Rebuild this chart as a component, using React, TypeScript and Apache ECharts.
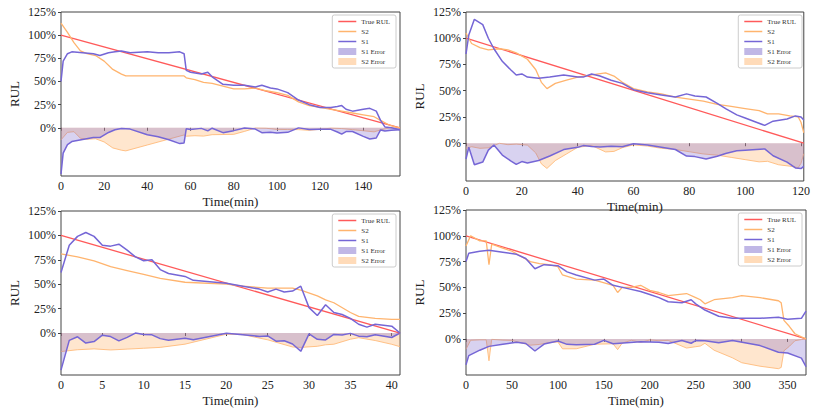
import * as echarts from "echarts";
import { useEffect, useRef } from "react";

// [time(min), predicted RUL %]
const endTimes = [157, 121, 41, 370];
const xIntervals = [20, 20, 5, 50];
const yMins = [-52, -36, -43, -35];
const yTicks = [0, 25, 50, 75, 100, 125];

const s2Runs: number[][][] = [
  [[0,113],[3,103],[6,92],[9,83],[12,80],[16,78],[20,72],[24,63],[28,58],[30,56],[40,56],[50,56],[57,56],[58,54],[62,52],[66,49],[70,48],[75,45],[80,42],[85,42],[90,43],[95,40],[100,38],[105,35],[110,28],[115,24],[120,22],[125,20],[130,18],[135,16],[140,14],[145,12],[148,8],[152,3],[155,1],[157,0]],
  [[0,105],[2,95],[5,91],[8,89],[12,90],[15,89],[18,86],[22,80],[25,70],[27,58],[29,52],[32,57],[36,60],[40,63],[45,65],[50,67],[53,64],[56,58],[60,52],[65,49],[70,47],[75,44],[80,42],[85,40],[90,37],[95,35],[100,33],[105,31],[108,28],[112,28],[116,26],[119,25],[120,20],[121,10]],
  [[0,81],[2,78],[4,74],[6,68],[8,64],[10,60],[12,56],[15,52],[20,50],[22,48],[25,46],[28,46],[29,44],[31,38],[32,34],[33,31],[35,21],[36,17],[38,15],[40,14],[41,14]],
  [[0,90],[5,100],[15,95],[22,95],[25,72],[28,92],[40,88],[50,85],[60,80],[70,75],[80,73],[90,72],[100,70],[105,62],[120,58],[140,57],[160,52],[165,45],[170,50],[180,50],[190,52],[200,47],[210,45],[220,42],[240,44],[250,40],[255,38],[260,34],[270,38],[290,40],[300,42],[320,40],[340,37],[343,35],[346,18],[352,12],[358,5],[365,2],[370,0]],
];

const s1Runs: number[][][] = [
  [[0,50],[1,72],[3,80],[5,82],[10,81],[15,80],[18,78],[22,81],[25,82],[28,83],[32,81],[40,82],[45,81],[50,81],[55,82],[57,80],[58,62],[60,60],[65,58],[68,60],[70,55],[75,47],[80,46],[85,46],[90,44],[93,46],[97,43],[100,42],[105,38],[110,30],[115,25],[120,22],[125,22],[128,23],[130,24],[132,20],[135,18],[140,20],[143,21],[146,18],[148,8],[150,1],[153,0],[157,-2]],
  [[0,85],[1,103],[3,118],[6,113],[8,100],[10,90],[13,78],[16,70],[18,65],[20,66],[22,63],[26,62],[30,63],[35,65],[40,63],[42,63],[45,66],[48,64],[52,60],[56,57],[60,51],[65,48],[70,46],[75,44],[79,47],[82,45],[86,44],[90,38],[93,33],[97,27],[100,24],[104,20],[107,17],[110,21],[115,23],[118,26],[120,25],[121,22]],
  [[0,62],[1,90],[2,99],[3,103],[4,99],[5,90],[6,89],[7,91],[8,85],[9,78],[10,74],[11,75],[12,65],[13,61],[15,58],[16,54],[20,51],[22,48],[24,45],[25,42],[26,45],[27,42],[28,43],[29,48],[30,26],[31,18],[32,29],[33,21],[34,19],[35,15],[36,9],[37,6],[38,9],[40,7],[41,0]],
  [[0,75],[3,83],[15,85],[25,86],[40,84],[55,82],[65,78],[75,68],[85,72],[100,71],[110,65],[120,62],[140,57],[150,58],[160,52],[175,49],[190,46],[200,43],[210,40],[220,36],[235,35],[245,38],[250,34],[260,28],[275,22],[290,20],[320,20],[340,21],[350,19],[365,20],[370,27]],
];

const grids = [
  { left: 61, top: 12, width: 339, height: 164 },
  { left: 466, top: 12, width: 340, height: 169 },
  { left: 61, top: 211, width: 339, height: 164 },
  { left: 466, top: 210, width: 340, height: 165 },
];

const RED = "#ff5a5a";
const ORANGE = "#ffb46e";
const PURPLE = "#7566d6";
const S1_FILL = "rgba(115,95,200,0.4)";
const S2_FILL = "rgba(255,175,100,0.45)";
const FONT = "Liberation Serif";
const LINE_ICON = "path://M0,0H24V2H0Z";

const errorOf = (pts: number[][], T: number) =>
  pts.map(([t, v]) => [t, -Math.abs(v - 100 * (1 - t / T))]);

export default function App() {
  const ref = useRef<HTMLDivElement>(null);

  useEffect(() => {
    if (!ref.current) return;
    const chart = echarts.init(ref.current, null, { renderer: "svg" });

    const series: any[] = [];
    const legends: any[] = [];
    grids.forEach((g, i) => {
      const T = endTimes[i];
      const base = { xAxisIndex: i, yAxisIndex: i, type: "line", symbol: "none" };
      series.push(
        { ...base, name: "S2 Error", data: errorOf(s2Runs[i], T), lineStyle: { color: ORANGE, width: 1, opacity: 0.8 }, itemStyle: { color: ORANGE }, areaStyle: { color: S2_FILL, origin: 0 }, z: 1 },
        { ...base, name: "S1 Error", data: errorOf(s1Runs[i], T), lineStyle: { color: PURPLE, width: 1.5 }, itemStyle: { color: PURPLE }, areaStyle: { color: S1_FILL, origin: 0 }, z: 2 },
        { ...base, name: "True RUL", data: [[0, 100], [T, 0]], lineStyle: { color: RED, width: 1.3 }, itemStyle: { color: RED }, z: 3 },
        { ...base, name: "S2", data: s2Runs[i], lineStyle: { color: ORANGE, width: 1.3 }, itemStyle: { color: ORANGE }, z: 3 },
        { ...base, name: "S1", data: s1Runs[i], lineStyle: { color: PURPLE, width: 1.5 }, itemStyle: { color: PURPLE }, z: 4 },
      );
      legends.push({
        orient: "vertical",
        right: 813 - g.left - g.width + 4,
        top: g.top + 3,
        itemWidth: 18,
        itemHeight: 7,
        itemGap: 3,
        padding: [3, 6],
        borderColor: "#ccc",
        borderWidth: 1,
        borderRadius: 2,
        backgroundColor: "#fff",
        textStyle: { fontFamily: FONT, fontSize: 7, color: "#333" },
        data: [
          { name: "True RUL", icon: LINE_ICON },
          { name: "S2", icon: LINE_ICON },
          { name: "S1", icon: LINE_ICON },
          { name: "S1 Error", icon: "rect", itemStyle: { color: "rgba(115,95,200,0.45)" } },
          { name: "S2 Error", icon: "rect", itemStyle: { color: "rgba(255,175,100,0.45)" } },
        ],
      });
    });

    chart.setOption({
      animation: false,
      backgroundColor: "#fff",
      grid: grids.map((g) => ({ ...g, show: true, borderColor: "#444", borderWidth: 1 })),
      legend: legends,
      xAxis: grids.map((_, i) => ({
        gridIndex: i,
        type: "value",
        min: 0,
        max: endTimes[i],
        interval: xIntervals[i],
        name: "Time(min)",
        nameLocation: "middle",
        nameGap: 19,
        nameTextStyle: { fontFamily: FONT, fontSize: 13, color: "#222" },
        axisLine: { show: false },
        axisTick: { show: true, length: 3, lineStyle: { color: "#444" } },
        axisLabel: { fontFamily: FONT, fontSize: 12, color: "#222", margin: 4, showMaxLabel: endTimes[i] % xIntervals[i] === 0 },
        splitLine: { show: false },
      })),
      yAxis: grids.map((_, i) => ({
        gridIndex: i,
        type: "value",
        min: yMins[i],
        max: 125,
        name: "RUL",
        nameLocation: "middle",
        nameGap: 40,
        nameTextStyle: { fontFamily: FONT, fontSize: 13, color: "#222" },
        axisLine: { show: false },
        axisTick: { show: true, length: 3, customValues: yTicks, lineStyle: { color: "#444" } },
        axisLabel: { fontFamily: FONT, fontSize: 12, color: "#222", margin: 5, customValues: yTicks, formatter: "{value}%" },
        splitLine: { show: false },
      })),
      series,
    });

    return () => chart.dispose();
  }, []);

  return (
    <div
      ref={ref}
      style={{ position: "absolute", left: 0, top: 0, width: 813, height: 420 }}
    />
  );
}
